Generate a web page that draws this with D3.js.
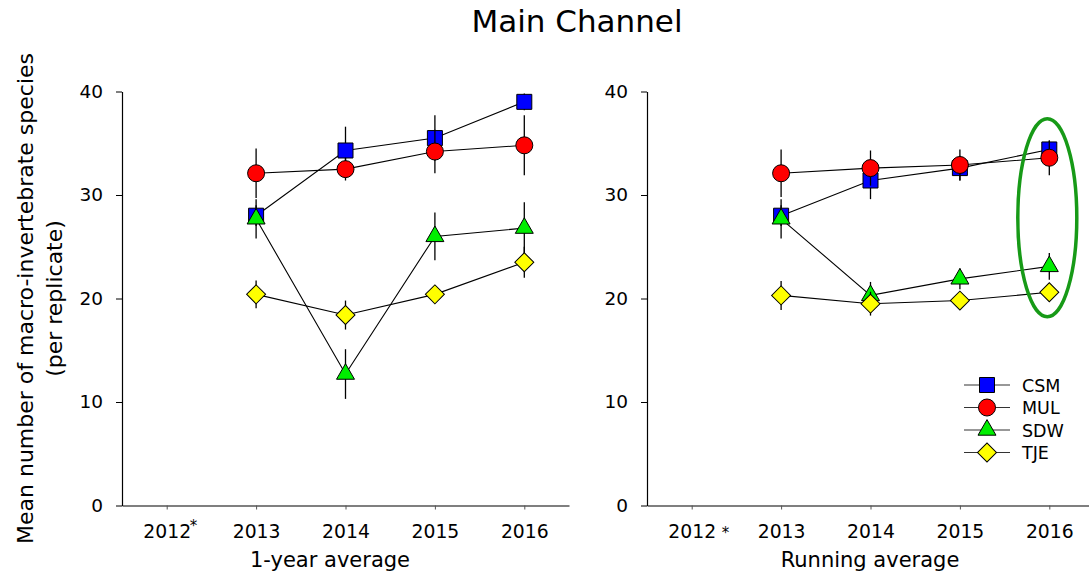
<!DOCTYPE html>
<html>
<head>
<meta charset="utf-8">
<script src="https://cdn.jsdelivr.net/npm/d3@7"></script>
<style>
  body { margin: 0; background: #fff; }
  text { font-family: "DejaVu Sans", "Liberation Sans", Arial, sans-serif; fill: #000; }
</style>
</head>
<body>
<div id="chart"></div>
<script>
// Data
const years = [2013, 2014, 2015, 2016];
const tickYears = [2012, 2013, 2014, 2015, 2016];
const seriesNames = ["CSM", "MUL", "SDW", "TJE"];
const yTicks = [0, 10, 20, 30, 40];

// 1-year average (mean, SE)
const csmOneYear = [28.0, 34.3, 35.5, 39.0];
const csmOneYearSE = [1.0, 2.3, 2.2, 0.8];
const mulOneYear = [32.1, 32.5, 34.2, 34.8];
const mulOneYearSE = [2.4, 1.1, 2.1, 2.9];
const sdwOneYear = [27.7, 12.7, 26.0, 26.8];
const sdwOneYearSE = [1.9, 2.4, 2.3, 2.5];
const tjeOneYear = [20.4, 18.4, 20.4, 23.5];
const tjeOneYearSE = [1.35, 1.4, 0.7, 1.5];

// Running average (mean, SE)
const csmRunning = [28.0, 31.4, 32.6, 34.4];
const csmRunningSE = [1.0, 1.8, 1.2, 0.8];
const mulRunning = [32.1, 32.6, 32.9, 33.6];
const mulRunningSE = [2.3, 1.7, 1.5, 1.7];
const sdwRunning = [27.7, 20.3, 21.9, 23.1];
const sdwRunningSE = [1.9, 1.3, 1.0, 1.3];
const tjeRunning = [20.3, 19.5, 19.8, 20.6];
const tjeRunningSE = [1.4, 1.15, 0.6, 0.6];

const colors = {CSM: "#0000ff", MUL: "#ff0000", SDW: "#00ee00", TJE: "#ffff00"};

const width = 1089, height = 577;

const svg = d3.select("#chart")
  .append("svg")
    .attr("width", width)
    .attr("height", height);

// shared y scale
const y = d3.scaleLinear().domain([0, 40]).range([505.5, 91.5]);

const panels = [
  {label: "1-year average", left: 122, right: 569, labelX: 330,
   means: [csmOneYear, mulOneYear, sdwOneYear, tjeOneYear],
   errs: [csmOneYearSE, mulOneYearSE, sdwOneYearSE, tjeOneYearSE],
   starRaise: true},
  {label: "Running average", left: 647, right: 1094, labelX: 870,
   means: [csmRunning, mulRunning, sdwRunning, tjeRunning],
   errs: [csmRunningSE, mulRunningSE, sdwRunningSE, tjeRunningSE],
   starRaise: false}
];

// marker shapes
function markerPath(name) {
  if (name === "CSM") return d3.symbol(d3.symbolSquare, 225)();
  if (name === "MUL") return d3.symbol(d3.symbolCircle, 227)();
  if (name === "SDW") return d3.symbol(d3.symbolTriangle, 140)();
  return d3.symbol(d3.symbolSquare, 180)();
}
function markerTransform(name, cx, cy) {
  return name === "TJE" ? `translate(${cx},${cy}) rotate(45)` : `translate(${cx},${cy})`;
}

panels.forEach(function(p) {
  const x = d3.scaleLinear().domain([2011.5, 2016.5]).range([p.left, p.right]);
  const g = svg.append("g");

  // axes
  const yAxis = g.append("g")
    .attr("transform", `translate(${p.left},0)`)
    .call(d3.axisLeft(y).tickValues(yTicks).tickSize(6).tickSizeOuter(0).tickPadding(13));
  yAxis.selectAll("text").style("font-size", "18.5px");

  const xAxis = g.append("g")
    .attr("transform", `translate(0,${y(0)})`)
    .call(d3.axisBottom(x).tickValues(tickYears).tickSize(4).tickSizeOuter(0)
      .tickPadding(15).tickFormat(d3.format("d")));
  xAxis.selectAll("text").style("font-size", "18.8px");
  xAxis.selectAll(".tick line").attr("stroke", "#555");
  g.selectAll(".domain").attr("stroke-width", 1.2);

  // asterisk after 2012
  g.append("text")
    .attr("x", x(2012) + (p.starRaise ? 23 : 30))
    .attr("y", y(0) + (p.starRaise ? 25 : 32))
    .style("font-size", "15px")
    .text("*");

  // axis title
  g.append("text")
    .attr("x", p.labelX)
    .attr("y", 567)
    .attr("text-anchor", "middle")
    .style("font-size", "21px")
    .text(p.label);

  // series: error bars, line, markers
  seriesNames.forEach(function(name, i) {
    const pts = years.map((yr, j) => ({year: yr, v: p.means[i][j], e: p.errs[i][j]}));

    g.append("g").selectAll("line")
      .data(pts)
      .join("line")
        .attr("x1", d => x(d.year))
        .attr("x2", d => x(d.year))
        .attr("y1", d => y(d.v - d.e))
        .attr("y2", d => y(d.v + d.e))
        .attr("stroke", "#000")
        .attr("stroke-width", 1.3);

    g.append("path")
      .datum(pts)
      .attr("fill", "none")
      .attr("stroke", "#000")
      .attr("stroke-width", 1.1)
      .attr("d", d3.line().x(d => x(d.year)).y(d => y(d.v)));

    g.append("g").selectAll("path")
      .data(pts)
      .join("path")
        .attr("d", markerPath(name))
        .attr("transform", d => markerTransform(name, x(d.year), y(d.v)))
        .attr("fill", colors[name])
        .attr("stroke", "#000")
        .attr("stroke-width", 1);
  });

  p.x = x;
});

// green ellipse around 2016 (running average)
const xr = panels[1].x;
svg.append("ellipse")
  .attr("cx", xr(2016) - 2)
  .attr("cy", y(27.8))
  .attr("rx", 29.5)
  .attr("ry", 99)
  .attr("fill", "none")
  .attr("stroke", "#179a17")
  .attr("stroke-width", 3.5);

// legend
const legend = svg.append("g").attr("transform", "translate(964,385)");
seriesNames.forEach(function(name, i) {
  const row = legend.append("g").attr("transform", `translate(0,${i * 22.5})`);
  row.append("line")
    .attr("x1", 0).attr("x2", 46)
    .attr("stroke", "#333").attr("stroke-width", 1.1);
  row.append("path")
    .attr("d", markerPath(name))
    .attr("transform", markerTransform(name, 23, 0))
    .attr("fill", colors[name])
    .attr("stroke", "#000");
  row.append("text")
    .attr("x", 58)
    .attr("y", 6.5)
    .style("font-size", "17.5px")
    .text(name);
});

// title
svg.append("text")
  .attr("x", 577)
  .attr("y", 32)
  .attr("text-anchor", "middle")
  .style("font-size", "31px")
  .text("Main Channel");

// y axis title (two lines)
const yTitle = svg.append("text")
  .attr("transform", `translate(33,${(y(0) + y(40)) / 2}) rotate(-90)`)
  .attr("text-anchor", "middle")
  .style("font-size", "22px");
yTitle.append("tspan").attr("x", 0).attr("y", 0).text("Mean number of macro-invertebrate species");
yTitle.append("tspan").attr("x", 0).attr("y", 29).text("(per replicate)");
</script>
</body>
</html>
